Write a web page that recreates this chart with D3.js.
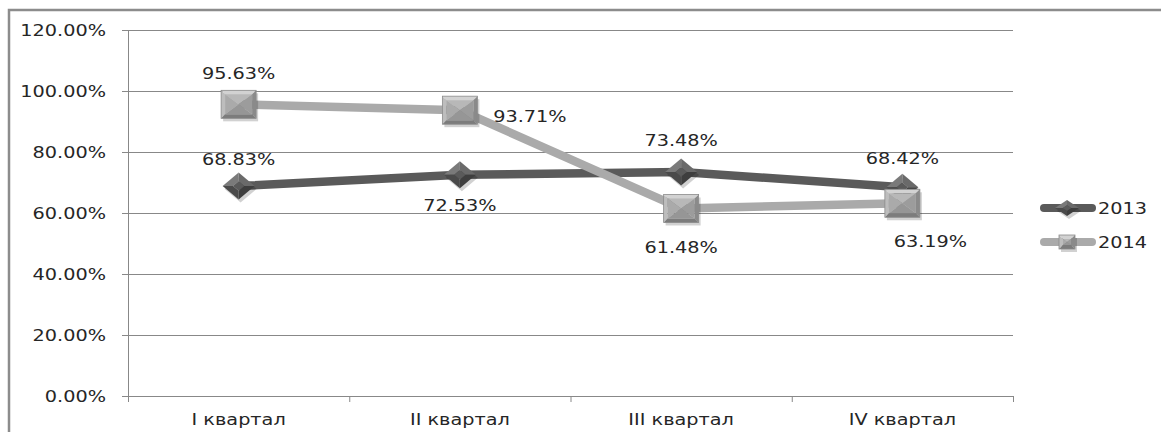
<!DOCTYPE html>
<html><head><meta charset="utf-8">
<script src="https://cdn.jsdelivr.net/npm/d3@7"></script>
<style>body{margin:0;background:#fff}svg{display:block}text{font-family:"DejaVu Sans",sans-serif;fill:#262626}</style>
</head><body><svg id="c" width="1161" height="432"></svg>
<script>
const categories = ["I квартал","II квартал","III квартал","IV квартал"];
const series2013 = [68.83, 72.53, 73.48, 68.42];
const series2014 = [95.63, 93.71, 61.48, 63.19];
const yTicks = [0,20,40,60,80,100,120];
const seriesNames = ["2013","2014"];

(function(){
const svg = d3.select("#c");
const pLeft=128,pRight=1013,pTop=30,pBottom=396;
const sx=1.22, fs=15.8;

svg.append("path").attr("d",`M9,432 V10 H1161`).attr("fill","none").attr("stroke","#8c8c8c").attr("stroke-width",2.5);

const x = d3.scalePoint().domain(categories).range([pLeft,pRight]).padding(0.5);
const xb = d3.scaleBand().domain(categories).range([pLeft,pRight]);
const y = d3.scaleLinear().domain([0,120]).range([pBottom,pTop]);

svg.append("g").selectAll("line").data(yTicks).join("line")
  .attr("x1",pLeft-6).attr("x2",pRight).attr("y1",d=>y(d)+0.5).attr("y2",d=>y(d)+0.5)
  .attr("stroke","#888").attr("stroke-width",1);
svg.append("line").attr("x1",pLeft+0.5).attr("x2",pLeft+0.5).attr("y1",pTop).attr("y2",pBottom+6).attr("stroke","#888");
const xt = categories.map(c=>xb(c)).concat([pRight]);
svg.append("g").selectAll("line").data(xt).join("line")
  .attr("x1",d=>d+0.5).attr("x2",d=>d+0.5).attr("y1",pBottom).attr("y2",pBottom+6).attr("stroke","#888");

function stext(g,tx,ty,str,anchor,size){
  return g.append("text").attr("transform",`translate(${tx},${ty}) scale(${sx},1)`)
    .attr("text-anchor",anchor).attr("font-size",size).text(str);
}
const fmt = d=>d.toFixed(2)+"%";
const tg = svg.append("g");
yTicks.forEach(t=>stext(tg,106,y(t)+6,fmt(t),"end",fs));
categories.forEach(c=>stext(tg,x(c),425,c,"middle",fs));

const line = d3.line().x((d,i)=>x(categories[i])).y(d=>y(d));
svg.append("path").datum(series2013).attr("d",line).attr("fill","none").attr("stroke","#5a5a5a").attr("stroke-width",8.5).attr("stroke-linejoin","round");
svg.append("path").datum(series2014).attr("d",line).attr("fill","none").attr("stroke","#aaaaaa").attr("stroke-width",8.5).attr("stroke-linejoin","round");

function diamond(g,cx,cy,hw,hh){
  const gg=g.append("g").attr("transform",`translate(${cx},${cy})`);
  gg.append("polygon").attr("points",`${-hw+2},3 2,${hh+3} ${hw+2},3 2,${-hh+3}`).attr("fill","rgba(0,0,0,0.18)");
  const iw=hw*0.35, ih=hh*0.35;
  gg.append("polygon").attr("points",`${-hw},0 0,${-hh} 0,${-ih} ${-iw},0`).attr("fill","#7a7a7a");
  gg.append("polygon").attr("points",`0,${-hh} ${hw},0 ${iw},0 0,${-ih}`).attr("fill","#6a6a6a");
  gg.append("polygon").attr("points",`${hw},0 0,${hh} 0,${ih} ${iw},0`).attr("fill","#3e3e3e");
  gg.append("polygon").attr("points",`0,${hh} ${-hw},0 ${-iw},0 0,${ih}`).attr("fill","#4a4a4a");
  gg.append("polygon").attr("points",`${-iw},0 0,${-ih} ${iw},0 0,${ih}`).attr("fill","#5a5a5a");
}
function square(g,cx,cy,hw,hh){
  const gg=g.append("g").attr("transform",`translate(${cx},${cy})`);
  gg.append("rect").attr("x",-hw+2).attr("y",-hh+3).attr("width",2*hw).attr("height",2*hh).attr("fill","rgba(0,0,0,0.18)");
  const b=4;
  gg.append("polygon").attr("points",`${-hw},${-hh} ${hw},${-hh} ${hw-b},${-hh+b} ${-hw+b},${-hh+b}`).attr("fill","#d2d2d2");
  gg.append("polygon").attr("points",`${-hw},${-hh} ${-hw+b},${-hh+b} ${-hw+b},${hh-b} ${-hw},${hh}`).attr("fill","#bdbdbd");
  gg.append("polygon").attr("points",`${hw},${-hh} ${hw},${hh} ${hw-b},${hh-b} ${hw-b},${-hh+b}`).attr("fill","#8a8a8a");
  gg.append("polygon").attr("points",`${-hw},${hh} ${-hw+b},${hh-b} ${hw-b},${hh-b} ${hw},${hh}`).attr("fill","#7c7c7c");
  const iw=hw-b, ih=hh-b;
  gg.append("polygon").attr("points",`${-iw},${-ih} ${iw},${-ih} 0,0`).attr("fill","#b8b8b8");
  gg.append("polygon").attr("points",`${-iw},${-ih} 0,0 ${-iw},${ih}`).attr("fill","#aaaaaa");
  gg.append("polygon").attr("points",`${iw},${-ih} ${iw},${ih} 0,0`).attr("fill","#9c9c9c");
  gg.append("polygon").attr("points",`${-iw},${ih} 0,0 ${iw},${ih}`).attr("fill","#969696");
  gg.append("rect").attr("x",-hw).attr("y",-hh).attr("width",2*hw).attr("height",2*hh).attr("fill","none").attr("stroke","#8a8a8a").attr("stroke-width",0.8);
}
const mg = svg.append("g");
series2013.forEach((v,i)=>diamond(mg,x(categories[i]),y(v),16,13.5));
series2014.forEach((v,i)=>square(mg,x(categories[i]),y(v),17.5,14));

const off2013 = [[0,-21],[0,36],[0,-26],[0,-23]];
const off2014 = [[0,-25],[70,12],[0,45],[28,44]];
const lg = svg.append("g");
series2013.forEach((v,i)=>stext(lg,x(categories[i])+off2013[i][0],y(v)+off2013[i][1],fmt(v),"middle",fs));
series2014.forEach((v,i)=>stext(lg,x(categories[i])+off2014[i][0],y(v)+off2014[i][1],fmt(v),"middle",fs));

const leg = svg.append("g");
[[208,"#5a5a5a",0],[242,"#aaaaaa",1]].forEach(([ly,col,k],i)=>{
  leg.append("line").attr("x1",1044).attr("x2",1092).attr("y1",ly).attr("y2",ly).attr("stroke",col).attr("stroke-width",8).attr("stroke-linecap","round");
  if(k===0) diamond(leg,1067,ly,12,8); else square(leg,1067,ly,8,7);
  stext(leg,1098,ly+6,seriesNames[i],"start",fs);
});
})();
</script></body></html>
